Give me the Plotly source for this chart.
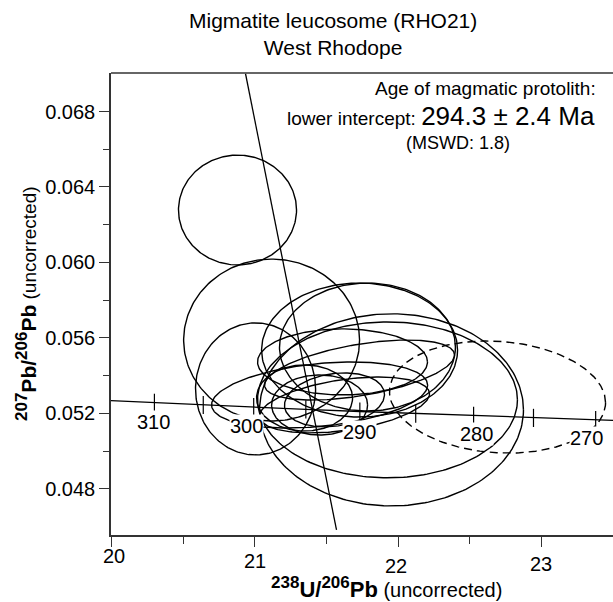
import numpy as np
import plotly.graph_objects as go

# ---------------- data ----------------
# error ellipses: centre (238U/206Pb, 207Pb/206Pb), half-extents, correlation
ell_x   = [20.879, 21.117, 21.005, 21.954, 21.926, 21.731, 21.786, 21.452, 21.612, 21.731, 21.626, 21.347, 21.452, 21.556, 22.694]
ell_y   = [0.06278, 0.05589, 0.05330, 0.05219, 0.05272, 0.05536, 0.05552, 0.05298, 0.05473, 0.05430, 0.05245, 0.05282, 0.05245, 0.05272, 0.05287]
ell_sx  = [0.412, 0.614, 0.419, 0.921, 0.907, 0.684, 0.614, 0.754, 0.593, 0.663, 0.593, 0.335, 0.335, 0.349, 0.754]
ell_sy  = [0.00291, 0.00429, 0.00350, 0.00509, 0.00413, 0.00355, 0.00339, 0.00175, 0.00175, 0.00159, 0.00148, 0.00175, 0.00159, 0.00143, 0.00297]
ell_rho = [0.0, 0.0, 0.0, 0.0, 0.0, 0.0, 0.0, 0.3, 0.0, 0.5, 0.4, 0.0, 0.0, 0.2, -0.1]
ell_dashed = [False]*14 + [True]

# concordia (Tera-Wasserburg) points, age in Ma
conc_age = [320, 310, 305, 300, 295, 290, 285, 280, 275, 270, 260]
conc_x = [19.649, 20.299, 20.640, 20.992, 21.356, 21.733, 22.123, 22.527, 22.945, 23.379, 24.297]
conc_y = [0.052795, 0.052564, 0.052448, 0.052334, 0.052219, 0.052105, 0.051991, 0.051877, 0.051764, 0.051651, 0.051426]
conc_tick_ages = [310, 305, 300, 295, 290, 285, 280, 275, 270]
conc_label_ages = [310, 300, 290, 280, 270]

# discordia end points
disc_x = [20.935, 21.570]
disc_y = [0.0700, 0.04583]

x_ticks = [20, 21, 22, 23]
x_minor = [20.5, 21.5, 22.5]
y_ticks = [0.048, 0.052, 0.056, 0.060, 0.064, 0.068]
y_minor = [0.050, 0.054, 0.058, 0.062, 0.066]
y_ticklabels = ["0.048", "0.052", "0.056", "0.060", "0.064", "0.068"]

FONT = "Liberation Sans, Arial, sans-serif"

fig = go.Figure()

t = np.linspace(0, 2*np.pi, 240)
for cx, cy, sx, sy, r, d in zip(ell_x, ell_y, ell_sx, ell_sy, ell_rho, ell_dashed):
    ex = cx + sx*np.cos(t)
    ey = cy + sy*(r*np.cos(t) + np.sqrt(1-r*r)*np.sin(t))
    fig.add_trace(go.Scatter(x=ex, y=ey, mode="lines",
                             line=dict(color="black", width=1.4, dash="8px,5px" if d else "solid"),
                             hoverinfo="skip", showlegend=False))

# concordia
fig.add_trace(go.Scatter(x=conc_x, y=conc_y, mode="lines", line=dict(color="black", width=1.3),
                         hoverinfo="skip", showlegend=False))
tick_x = [conc_x[conc_age.index(a)] for a in conc_tick_ages]
tick_y = [conc_y[conc_age.index(a)] for a in conc_tick_ages]
fig.add_trace(go.Scatter(x=tick_x, y=tick_y, mode="markers",
                         marker=dict(symbol="line-ns", size=13, line=dict(color="black", width=1.2)),
                         hoverinfo="skip", showlegend=False))
# discordia
fig.add_trace(go.Scatter(x=disc_x, y=disc_y, mode="lines", line=dict(color="black", width=1.3),
                         hoverinfo="skip", showlegend=False))

C = dict(xanchor="center", yanchor="middle", showarrow=False)

# concordia age labels
lab_shift = {310: (-1, -19), 300: (-7, -19), 290: (0, -21), 280: (3, -18), 270: (-9, -18)}
for a in conc_label_ages:
    i = conc_age.index(a)
    fig.add_annotation(x=conc_x[i], y=conc_y[i], text=str(a),
                       xshift=lab_shift[a][0], yshift=lab_shift[a][1],
                       font=dict(family=FONT, size=20, color="black"),
                       bgcolor="white", borderpad=0, **C)

# x tick labels (staggered as in the picture)
xl_shift = {20: (2, -21), 21: (0, -26), 22: (-2, -31), 23: (0, -29)}
for v in x_ticks:
    fig.add_annotation(x=v, y=0, yref="paper", text=str(v),
                       xshift=xl_shift[v][0], yshift=xl_shift[v][1],
                       font=dict(family=FONT, size=20, color="black"), **C)

SUP = "<sup><span style='font-size:17px'>{}</span></sup>"
xt = ("<b>" + SUP.format("238") + "U/" + SUP.format("206") + "Pb</b>"
      "<span style='font-size:20px'> (uncorrected)</span>")
yt = ("<b>" + SUP.format("207") + "Pb/" + SUP.format("206") + "Pb</b>"
      "<span style='font-size:19px'> (uncorrected)</span>")

# axis titles
fig.add_annotation(x=0.549, y=0, xref="paper", yref="paper", yshift=-69, text=xt,
                   font=dict(family=FONT, size=22, color="black"),
                   xanchor="center", yanchor="bottom", showarrow=False)
fig.add_annotation(x=0, y=0.50, xref="paper", yref="paper", xshift=-85, textangle=-90, text=yt,
                   font=dict(family=FONT, size=21, color="black"), **C)

# title
fig.add_annotation(x=0.4417, y=1, xref="paper", yref="paper", yshift=39,
                   text="Migmatite leucosome (RHO21)<br>West Rhodope",
                   font=dict(family=FONT, size=21, color="black"), **C)

# age text
fig.add_annotation(x=0.7468, y=0.9675, xref="paper", yref="paper",
                   text="Age of magmatic protolith:", font=dict(family=FONT, size=19, color="black"), **C)
fig.add_annotation(x=0.657, y=0.907, xref="paper", yref="paper",
                   text="lower intercept: <span style='font-size:26px'>294.3 ± 2.4 Ma</span>",
                   font=dict(family=FONT, size=19, color="black"), **C)
fig.add_annotation(x=0.691, y=0.848, xref="paper", yref="paper",
                   text="(MSWD: 1.8)", font=dict(family=FONT, size=18, color="black"), **C)

# top frame line
fig.add_shape(type="line", xref="paper", yref="paper", x0=0, x1=1, y0=1, y1=1,
              line=dict(color="#333333", width=1.6))

fig.update_xaxes(range=[19.996, 23.5], tickvals=x_ticks, showticklabels=False,
                 ticks="outside", ticklen=10, tickwidth=1.3, tickcolor="#333333",
                 minor=dict(tickvals=x_minor, ticks="outside", ticklen=7, tickwidth=1.3, tickcolor="#333333"),
                 showline=True, linecolor="#333333", linewidth=1.6, showgrid=False, zeroline=False)
fig.update_yaxes(range=[0.04556, 0.07004], tickvals=y_ticks, ticktext=y_ticklabels,
                 ticks="outside", ticklen=10, tickwidth=1.3, tickcolor="#333333",
                 minor=dict(tickvals=y_minor, ticks="outside", ticklen=6, tickwidth=1.3, tickcolor="#333333"),
                 tickfont=dict(family=FONT, size=20, color="black"),
                 showline=True, linecolor="#333333", linewidth=1.6, showgrid=False, zeroline=False)

fig.update_layout(width=613, height=602, margin=dict(l=111, r=0, t=73, b=67),
                  plot_bgcolor="white", paper_bgcolor="white", showlegend=False)

fig.write_html("out.html", config={"displayModeBar": False},
               post_script="document.body.style.margin='0';document.body.style.padding='0';")
